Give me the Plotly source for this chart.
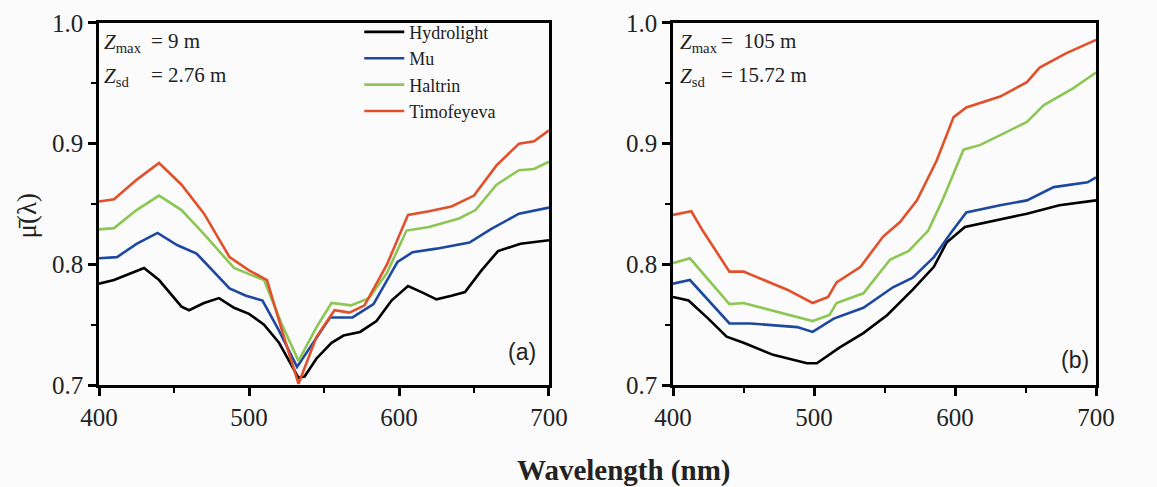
import plotly.graph_objects as go

# ---- Panel (a) data ----
a_hyd_x = [400, 410, 420, 430, 440, 450, 455, 460, 470, 480, 490, 500, 510, 520, 527, 533, 537, 545, 555, 563, 574, 585, 595, 606, 615, 625, 635, 644, 655, 666, 681, 700]
a_hyd_y = [.784, .787, .792, .797, .787, .772, .765, .762, .768, .772, .764, .759, .750, .735, .720, .706, .707, .722, .735, .741, .744, .753, .770, .782, .777, .771, .774, .777, .795, .811, .817, .820]
a_mu_x = [400, 412, 425, 439, 452, 465, 487, 498, 509, 520, 532, 543, 554, 569, 583, 599, 609, 625, 647, 661, 680, 700]
a_mu_y = [.805, .806, .817, .826, .816, .809, .780, .774, .770, .745, .715, .735, .756, .756, .767, .802, .810, .813, .818, .829, .842, .847]
a_hal_x = [400, 410, 425, 440, 455, 470, 490, 500, 510, 522, 533, 545, 555, 568, 580, 592, 605, 620, 640, 651, 665, 680, 690, 700]
a_hal_y = [.829, .830, .845, .857, .845, .825, .797, .792, .787, .750, .720, .748, .768, .766, .772, .793, .828, .831, .838, .845, .866, .878, .879, .885]
a_tim_x = [400, 410, 425, 440, 455, 470, 487, 500, 512, 522, 533, 545, 557, 567, 577, 592, 606, 620, 635, 650, 665, 680, 690, 700]
a_tim_y = [.852, .854, .870, .884, .866, .842, .806, .795, .787, .745, .701, .740, .762, .760, .766, .800, .841, .844, .848, .857, .882, .900, .902, .911]

# ---- Panel (b) data ----
b_hyd_x = [400, 411, 425, 438, 450, 471, 495, 502, 518, 535, 552, 570, 585, 594, 607, 630, 651, 674, 700]
b_hyd_y = [.773, .770, .755, .740, .735, .725, .718, .718, .731, .743, .758, .779, .798, .818, .831, .837, .842, .849, .853]
b_mu_x = [400, 412, 440, 455, 488, 499, 514, 535, 556, 570, 585, 597, 608, 632, 651, 670, 694, 700]
b_mu_y = [.784, .787, .751, .751, .748, .744, .755, .764, .781, .789, .806, .826, .843, .849, .853, .864, .868, .872]
b_hal_x = [400, 412, 440, 450, 499, 511, 516, 535, 554, 567, 581, 591, 606, 618, 651, 663, 684, 700]
b_hal_y = [.801, .805, .767, .768, .753, .758, .768, .776, .804, .811, .828, .853, .895, .899, .918, .932, .946, .959]
b_tim_x = [400, 413, 421, 440, 450, 481, 499, 510, 516, 533, 549, 561, 573, 587, 599, 608, 632, 651, 660, 679, 700]
b_tim_y = [.841, .844, .828, .794, .794, .779, .768, .773, .785, .798, .823, .835, .853, .886, .922, .930, .939, .951, .963, .975, .986]

names = ["Hydrolight", "Mu", "Haltrin", "Timofeyeva"]
colors = ["#000000", "#1c48a0", "#8cc653", "#e2502a"]

x_ticks = [400, 500, 600, 700]
y_ticks = [0.7, 0.8, 0.9, 1.0]
y_tick_text = ["0.7", "0.8", "0.9", "1.0"]

SERIF = "Liberation Serif"
SANS = "Liberation Sans"

fig = go.Figure()
a_sets = [(a_hyd_x, a_hyd_y), (a_mu_x, a_mu_y), (a_hal_x, a_hal_y), (a_tim_x, a_tim_y)]
b_sets = [(b_hyd_x, b_hyd_y), (b_mu_x, b_mu_y), (b_hal_x, b_hal_y), (b_tim_x, b_tim_y)]
for (xs, ys), n, c in zip(a_sets, names, colors):
    fig.add_trace(go.Scatter(x=xs, y=ys, mode="lines", name=n, line=dict(color=c, width=2.6),
                             xaxis="x", yaxis="y", showlegend=True))
for (xs, ys), n, c in zip(b_sets, names, colors):
    fig.add_trace(go.Scatter(x=xs, y=ys, mode="lines", name=n, line=dict(color=c, width=2.6),
                             xaxis="x2", yaxis="y2", showlegend=False))

def xax(domain, anchor):
    return dict(domain=domain, anchor=anchor, range=[400, 700], tickvals=x_ticks,
                ticks="outside", ticklen=8, tickwidth=2.5, tickcolor="black",
                showline=True, linewidth=2.8, linecolor="black", mirror=True,
                showgrid=False, zeroline=False, automargin=False,
                minor=dict(dtick=50, ticks="outside", ticklen=5, tickwidth=2, tickcolor="black"),
                tickfont=dict(family=SERIF, size=25, color="#222"))

def yax(anchor):
    return dict(domain=[0.2094, 0.9528], anchor=anchor, range=[0.7, 1.0], tickvals=y_ticks,
                ticktext=y_tick_text,
                ticks="outside", ticklen=8, tickwidth=2.5, tickcolor="black",
                showline=True, linewidth=2.8, linecolor="black", mirror=True,
                showgrid=False, zeroline=False, automargin=False,
                minor=dict(dtick=0.05, ticks="outside", ticklen=5, tickwidth=2, tickcolor="black"),
                tickfont=dict(family=SERIF, size=25, color="#222"))

fig.update_layout(
    width=1157, height=487,
    margin=dict(l=0, r=0, t=0, b=0, autoexpand=False),
    font=dict(family=SERIF, color="#222"),
    paper_bgcolor="#fbfbfb", plot_bgcolor="#fbfbfb",
    xaxis=xax([0.0856, 0.4745], "y"),
    yaxis=yax("x"),
    xaxis2=xax([0.5817, 0.9473], "y2"),
    yaxis2=yax("x2"),
    legend=dict(x=0.3105, y=0.972, xanchor="left", yanchor="top",
                bgcolor="rgba(0,0,0,0)", borderwidth=0, tracegroupgap=0,
                font=dict(family=SERIF, size=18, color="#222"), itemwidth=40),
    showlegend=True,
)

ann = []
def txt(x, y, text, xref, yref, size=21, family=SERIF, xanchor="left", **kw):
    ann.append(dict(x=x, y=y, xref=xref, yref=yref, text=text, showarrow=False,
                    xanchor=xanchor, yanchor="middle",
                    font=dict(family=family, size=size, color="#222"), **kw))

txt(0.006, 0.945, "<i>Z</i><sub>max</sub>", "x domain", "y domain")
txt(0.006, 0.852, "<i>Z</i><sub>sd</sub>", "x domain", "y domain")
txt(0.112, 0.950, "= 9 m", "x domain", "y domain")
txt(0.112, 0.857, "= 2.76 m", "x domain", "y domain")
txt(0.012, 0.945, "<i>Z</i><sub>max</sub>", "x2 domain", "y2 domain")
txt(0.012, 0.852, "<i>Z</i><sub>sd</sub>", "x2 domain", "y2 domain")
txt(0.108, 0.950, "=  105 m", "x2 domain", "y2 domain")
txt(0.108, 0.857, "= 15.72 m", "x2 domain", "y2 domain")
txt(0.94, 0.09, "(a)", "x domain", "y domain", size=23, family=SANS, xanchor="center")
txt(0.95, 0.07, "(b)", "x2 domain", "y2 domain", size=23, family=SANS, xanchor="center")
txt(0.539, 0.033, "<b>Wavelength (nm)</b>", "paper", "paper", size=29, xanchor="center")
txt(0.0235, 0.558, "μ̄(λ)", "paper", "paper", size=27, xanchor="center", textangle=-90)

fig.update_layout(annotations=ann)
fig.write_html("out.html")
